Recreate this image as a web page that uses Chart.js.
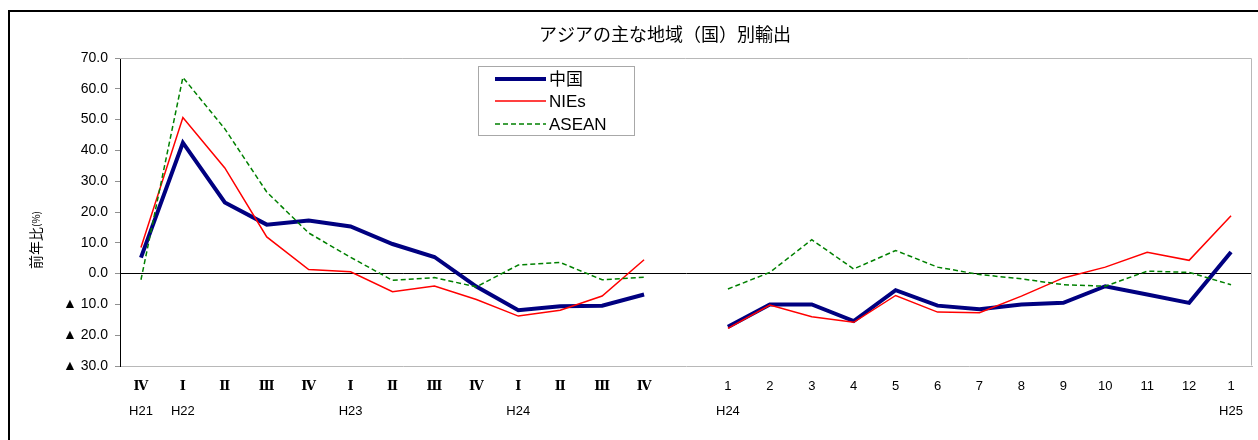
<!DOCTYPE html>
<html>
<head>
<meta charset="utf-8">
<script src="https://cdn.jsdelivr.net/npm/chart.js@4.4.1/dist/chart.umd.min.js"></script>
<style>
  html, body { margin: 0; padding: 0; background: #fff; }
  #wrap { position: relative; width: 1258px; height: 440px; overflow: hidden; }
  #frame { position: absolute; left: 8px; top: 10px; width: 1400px; height: 600px;
           border-left: 2px solid #000; border-top: 2px solid #000; pointer-events: none; }
  canvas { position: absolute; left: 0; top: 0; }
</style>
</head>
<body>
<div id="wrap">
  <canvas id="c" width="1258" height="440"></canvas>
  <div id="frame"></div>
</div>
<script>
// ---- data ----
const quarterLabels = ['Ⅳ','Ⅰ','Ⅱ','Ⅲ','Ⅳ','Ⅰ','Ⅱ','Ⅲ','Ⅳ','Ⅰ','Ⅱ','Ⅲ','Ⅳ'];
const quarterYears  = ['H21','H22','','','','H23','','','','H24','','',''];
const monthLabels   = ['1','2','3','4','5','6','7','8','9','10','11','12','1'];
const monthYears    = ['H24','','','','','','','','','','','','H25'];

const chinaQ = [5.2, 42.5, 23.1, 15.9, 17.2, 15.3, 9.6, 5.4, -4.2, -11.9, -10.6, -10.4, -6.8];
const niesQ  = [8.5, 50.7, 34.3, 11.9, 1.3, 0.6, -5.9, -4.0, -8.4, -13.8, -11.9, -7.3, 4.5];
const aseanQ = [-2.0, 63.7, 47.0, 26.5, 13.2, 5.3, -2.2, -1.3, -4.3, 2.8, 3.6, -2.0, -1.2];

const chinaM = [-17.3, -10.0, -10.0, -15.4, -5.4, -10.4, -11.6, -10.0, -9.5, -4.1, -6.8, -9.5, 7.0];
const niesM  = [-17.8, -10.2, -14.0, -15.8, -7.1, -12.5, -12.7, -7.3, -1.4, 2.1, 6.9, 4.3, 18.8];
const aseanM = [-5.0, 0.4, 11.0, 1.5, 7.5, 2.1, -0.3, -1.7, -3.6, -4.1, 0.8, 0.4, -3.6];

const seriesNames = ['中国', 'NIEs', 'ASEAN'];
const chartTitle = 'アジアの主な地域（国）別輸出';
const yTitleMain = '前年比';
const yTitleUnit = '(%)';

// ---- build ----
const periodRow = [...quarterLabels, '', ...monthLabels];
const yearRow   = [...quarterYears, '', ...monthYears];
const join = (q, m) => [...q, null, ...m];

const textPlugin = {
  id: 'texts',
  afterDraw(chart) {
    const ctx = chart.ctx;
    ctx.save();
    ctx.fillStyle = '#000';
    ctx.font = '18px "Noto Sans CJK JP", sans-serif';
    ctx.textAlign = 'center';
    ctx.textBaseline = 'middle';
    ctx.fillText(chartTitle, 665, 34);
    ctx.translate(36, 240);
    ctx.rotate(-Math.PI / 2);
    ctx.font = '14px "Noto Sans CJK JP", sans-serif';
    const w1 = ctx.measureText(yTitleMain).width;
    ctx.font = '10px "Noto Sans CJK JP", sans-serif';
    const w2 = ctx.measureText(yTitleUnit).width;
    const start = -(w1 + w2) / 2;
    ctx.textAlign = 'left';
    ctx.font = '14px "Noto Sans CJK JP", sans-serif';
    ctx.fillText(yTitleMain, start, 0);
    ctx.font = '10px "Noto Sans CJK JP", sans-serif';
    ctx.fillText(yTitleUnit, start + w1, 0);
    ctx.restore();

    ctx.save();
    ctx.strokeStyle = '#a8a8a8';
    ctx.lineWidth = 1;
    ctx.strokeRect(478.5, 66.5, 156, 69);
    const rows = [79, 101, 124];
    chart.data.datasets.forEach((ds, i) => {
      ctx.beginPath();
      ctx.strokeStyle = ds.borderColor;
      ctx.lineWidth = ds.borderWidth;
      ctx.setLineDash(ds.borderDash || []);
      ctx.moveTo(495, rows[i]);
      ctx.lineTo(546, rows[i]);
      ctx.stroke();
      ctx.setLineDash([]);
      ctx.fillStyle = '#000';
      ctx.font = '17px "Liberation Sans", "Noto Sans CJK JP", sans-serif';
      ctx.textBaseline = 'middle';
      ctx.textAlign = 'left';
      ctx.fillText(ds.label, 549, rows[i] + 1);
    });
    ctx.restore();
  }
};

const areaBorder = {
  id: 'areaBorder',
  beforeDatasetsDraw(chart) {
    const {ctx, chartArea: a} = chart;
    ctx.save();
    ctx.strokeStyle = '#b8b8b8';
    ctx.lineWidth = 1;
    ctx.beginPath();
    ctx.moveTo(a.left, a.top + 0.5);
    ctx.lineTo(a.right - 0.5, a.top + 0.5);
    ctx.lineTo(a.right - 0.5, a.bottom - 0.5);
    ctx.stroke();
    ctx.restore();
  }
};

new Chart(document.getElementById('c'), {
  type: 'line',
  data: {
    labels: periodRow,
    datasets: [
      { label: seriesNames[0], data: join(chinaQ, chinaM), borderColor: '#000080',
        borderWidth: 4, pointRadius: 0, order: 3, spanGaps: false },
      { label: seriesNames[1], data: join(niesQ, niesM), borderColor: '#ff0000',
        borderWidth: 1.5, pointRadius: 0, order: 2, spanGaps: false },
      { label: seriesNames[2], data: join(aseanQ, aseanM), borderColor: '#008000',
        borderWidth: 1.5, borderDash: [5, 3], pointRadius: 0, order: 1, spanGaps: false }
    ]
  },
  options: {
    responsive: false,
    animation: false,
    layout: { padding: { left: 0, right: 6, top: 58, bottom: 0 } },
    plugins: {
      legend: { display: false },
      tooltip: { enabled: false },
      title: { display: false }
    },
    scales: {
      x: {
        type: 'category',
        position: 'bottom',
        weight: 0,
        offset: true,
        grid: { display: false, drawTicks: false },
        border: { display: true, color: '#b8b8b8', width: 1 },
        ticks: {
          autoSkip: false, maxRotation: 0, minRotation: 0, padding: 13, color: '#000',
          font: c => ({
            family: c.index < quarterLabels.length
              ? '"DejaVu Serif", "Liberation Serif", serif'
              : '"Liberation Sans", "Noto Sans CJK JP", sans-serif',
            size: 13, lineHeight: 1.2,
            weight: c.index < quarterLabels.length ? 'bold' : 'normal'
          })
        },
        afterFit(scale) { scale.height = 31; }
      },
      x2: {
        type: 'category',
        position: 'bottom',
        weight: 1,
        offset: true,
        labels: yearRow,
        grid: { display: false, drawTicks: false },
        border: { display: false },
        ticks: {
          autoSkip: false, maxRotation: 0, minRotation: 0, padding: 7, color: '#000',
          font: { family: '"Liberation Sans", "Noto Sans CJK JP", sans-serif', size: 13, lineHeight: 1.2 }
        },
        afterFit(scale) { scale.height = 43; }
      },
      y: {
        min: -30, max: 70,
        ticks: {
          stepSize: 10, color: '#000', padding: 7,
          font: { family: '"Liberation Sans", "DejaVu Sans", sans-serif', size: 14 },
          callback: v => v < 0 ? '▲ ' + Math.abs(v).toFixed(1) : v.toFixed(1)
        },
        grid: {
          drawOnChartArea: true, drawTicks: true, tickLength: 5,
          color: c => (c.tick && c.tick.value === 0) ? '#000' : 'rgba(0,0,0,0)',
          tickColor: '#909090', lineWidth: 1
        },
        border: { display: true, color: '#000', width: 1 },
        title: { display: false },
        afterFit(scale) { scale.width = 120; }
      }
    }
  },
  plugins: [areaBorder, textPlugin]
});
</script>
</body>
</html>
